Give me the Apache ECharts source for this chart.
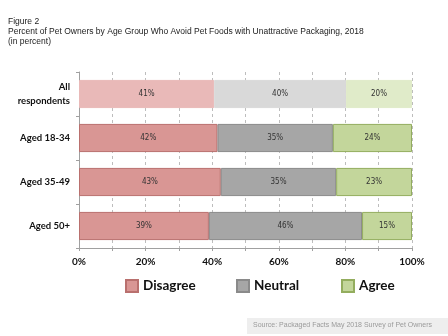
<!DOCTYPE html>
<html>
<head>
<meta charset="utf-8">
<script src="https://cdn.jsdelivr.net/npm/echarts@6/dist/echarts.min.js"></script>
<style>
  html, body { margin: 0; padding: 0; background: #fff; }
  #chart { width: 448px; height: 336px; }
</style>
</head>
<body>
<div id="chart"></div>
<script>
// Survey groups, top to bottom
const groups = ['All\nrespondents', 'Aged 18-34', 'Aged 35-49', 'Aged 50+'];
// Responses per group (percent, as reported)
const disagree = [41, 42, 43, 39];
const neutral = [40, 35, 35, 46];
const agree = [20, 24, 23, 15];
const seriesNames = ['Disagree', 'Neutral', 'Agree'];
const xTicks = [0, 20, 40, 60, 80, 100];

// Fill / border per response, plus a lighter tint for the "All respondents" row
const fills = ['#d99694', '#a6a6a6', '#c3d69b'];
const borders = ['#b9706e', '#8a8a8a', '#93ad5e'];
const lightFills = ['#e9b9b8', '#d9d9d9', '#e0ebc9'];

const labelFont = 'Lato, "Open Sans", sans-serif';

const raw = [disagree, neutral, agree];
const totals = groups.map((_, i) => disagree[i] + neutral[i] + agree[i]);

const series = raw.map((vals, s) => ({
  name: seriesNames[s],
  type: 'bar',
  stack: 'total',
  barCategoryGap: '36%',
  itemStyle: { color: fills[s], borderColor: borders[s], borderWidth: 1 },
  label: {
    show: true,
    position: 'inside',
    color: '#333',
    fontFamily: '"DejaVu Sans Condensed", "Liberation Sans"',
    fontSize: 8,
    formatter: p => vals[p.dataIndex] + '%'
  },
  // 100% stacked: each segment is its share of the group total
  data: vals.map((v, i) => ({
    value: v / totals[i] * 100,
    itemStyle: i === 0 ? { color: lightFills[s], borderColor: lightFills[s] } : undefined
  }))
}));

// One legend block per response so each entry sits at its own spot
const legendLefts = [125, 236, 341];
const legends = seriesNames.map((n, i) => ({
  data: [n],
  top: 279,
  left: legendLefts[i],
  padding: 0,
  itemWidth: 12,
  itemHeight: 12,
  itemGap: 0,
  icon: 'rect',
  textStyle: {
    fontFamily: labelFont,
    fontWeight: 'bold',
    fontSize: 13.5,
    color: '#111'
  }
}));

const chart = echarts.init(document.getElementById('chart'), null, { renderer: 'canvas' });
chart.setOption({
  animation: false,
  backgroundColor: '#fff',
  title: {
    text: 'Figure 2\nPercent of Pet Owners by Age Group Who Avoid Pet Foods with Unattractive Packaging, 2018\n(in percent)',
    left: 3,
    top: 12,
    textStyle: {
      fontFamily: '"Liberation Sans", Arial',
      fontSize: 8.5,
      fontWeight: 'normal',
      color: '#222',
      lineHeight: 10
    }
  },
  grid: { left: 79, right: 36, top: 72, bottom: 88, outerBoundsMode: 'none' },
  xAxis: {
    type: 'value',
    min: 0,
    max: 100,
    interval: 10,
    axisLine: { show: true, lineStyle: { color: '#a0a0a0' } },
    axisTick: { show: true, length: 3, lineStyle: { color: '#a0a0a0' } },
    splitLine: { show: true, lineStyle: { color: '#bdbdbd', type: [3, 3] } },
    axisLabel: {
      color: '#111',
      fontFamily: labelFont,
      fontWeight: 'bold',
      fontSize: 10,
      margin: 9,
      formatter: v => xTicks.includes(v) ? v + '%' : ''
    }
  },
  yAxis: {
    type: 'category',
    data: groups,
    inverse: true,
    axisLine: { show: true, lineStyle: { color: '#a0a0a0' } },
    axisTick: { show: true, length: 3, lineStyle: { color: '#a0a0a0' } },
    axisLabel: {
      color: '#111',
      fontFamily: labelFont,
      fontWeight: 'bold',
      fontSize: 9.5,
      lineHeight: 14,
      margin: 9,
      align: 'right'
    }
  },
  legend: legends,
  graphic: [
    {
      type: 'rect',
      left: 247,
      top: 318,
      shape: { width: 201, height: 16 },
      style: { fill: '#eeeeee' }
    },
    {
      type: 'text',
      left: 253,
      top: 322,
      style: {
        text: 'Source: Packaged Facts May 2018 Survey of Pet Owners',
        fill: '#9a9a9a',
        font: '7px "Liberation Sans", Arial'
      }
    }
  ],
  series
});
</script>
</body>
</html>
